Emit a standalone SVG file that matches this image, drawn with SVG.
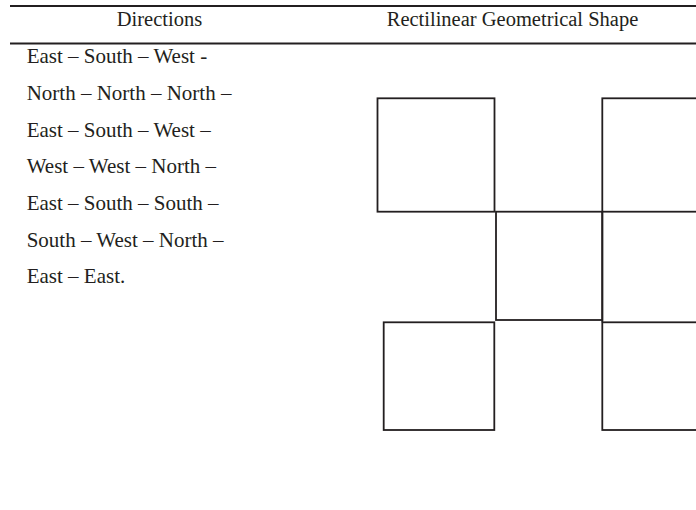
<svg xmlns="http://www.w3.org/2000/svg" width="696" height="510" viewBox="0 0 696 510">
  <style>
    .hdr { font-family: "Liberation Serif", "Times New Roman", serif; font-size: 20.5px; fill: #231f20; text-anchor: middle; }
    .txt { font-family: "Liberation Serif", "Times New Roman", serif; font-size: 21px; fill: #231f20; }
    .rule { stroke: #231f20; stroke-width: 2.2; fill: none; }
    .shape { stroke: #231f20; stroke-width: 1.8; fill: none; stroke-linejoin: miter; }
  </style>
  <rect width="696" height="510" fill="#ffffff"/>
  <g id="table-rules">
    <line class="rule" x1="10" y1="6" x2="696" y2="6"/>
    <line class="rule" x1="10" y1="43.5" x2="696" y2="43.5"/>
  </g>
  <g id="header">
    <text class="hdr" x="159.5" y="26">Directions</text>
    <text class="hdr" x="512.5" y="26">Rectilinear Geometrical Shape</text>
  </g>
  <g id="directions">
    <text class="txt" x="26.7" y="63.3">East – South – West -</text>
    <text class="txt" x="26.7" y="100">North – North – North –</text>
    <text class="txt" x="26.7" y="136.7">East – South – West –</text>
    <text class="txt" x="26.7" y="173.3">West – West – North –</text>
    <text class="txt" x="26.7" y="210">East – South – South –</text>
    <text class="txt" x="26.7" y="246.7">South – West – North –</text>
    <text class="txt" x="26.7" y="283.3">East – East.</text>
  </g>
  <g id="shape">
    <rect id="sq-top-left" class="shape" x="377.5" y="98.3" width="117" height="113.4"/>
    <rect id="sq-top-right" class="shape" x="602.3" y="98.3" width="120" height="113.4"/>
    <rect id="sq-middle" class="shape" x="496" y="211.7" width="106.3" height="108.3"/>
    <rect id="sq-bottom-left" class="shape" x="383.7" y="322.3" width="110.6" height="107.7"/>
    <rect id="sq-bottom-right" class="shape" x="602.3" y="322.3" width="120" height="107.7"/>
    <line class="shape" x1="602.3" y1="211.7" x2="602.3" y2="322.3"/>
  </g>
</svg>
